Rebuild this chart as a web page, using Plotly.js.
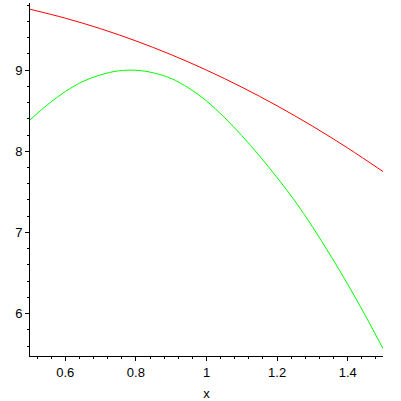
<!DOCTYPE html>
<html>
<head>
<meta charset="utf-8">
<script src="https://cdn.plot.ly/plotly-3.0.1.min.js"></script>
<style>html,body{margin:0;padding:0;background:#fff;}#chart{width:401px;height:401px;}</style>
</head>
<body>
<div id="chart"></div>
<script>
// Red curve samples
const redX = [0.5, 0.6, 0.7, 0.8, 0.9, 1.0, 1.1, 1.2, 1.3, 1.4, 1.5];
const redY = [9.75, 9.64, 9.51, 9.36, 9.19, 9.00, 8.79, 8.56, 8.31, 8.04, 7.75];

// Green curve samples
const greenX = [0.5, 0.55, 0.6, 0.65, 0.7, 0.75, 0.8, 0.85, 0.9, 0.95, 1.0, 1.05, 1.1, 1.15, 1.2, 1.25, 1.3, 1.35, 1.4, 1.45, 1.5];
const greenY = [8.386, 8.575, 8.736, 8.86, 8.942, 8.99, 8.998, 8.966, 8.897, 8.778, 8.621, 8.420, 8.193, 7.944, 7.675, 7.39, 7.07, 6.725, 6.362, 5.975, 5.568];

const xTitle = "x";

const font = {family: "Liberation Sans, Arial, sans-serif", size: 13, color: "#000"};

const traces = [
  {x: redX, y: redY, type: "scatter", mode: "lines", line: {color: "#ff0000", width: 1, shape: "spline"}, hoverinfo: "skip"},
  {x: greenX, y: greenY, type: "scatter", mode: "lines", line: {color: "#00ff00", width: 1, shape: "spline"}, hoverinfo: "skip"}
];

const layout = {
  width: 401, height: 401,
  margin: {l: 30, r: 18, t: 3, b: 45, pad: 0},
  paper_bgcolor: "#fff", plot_bgcolor: "#fff",
  showlegend: false,
  font: font,
  xaxis: {
    range: [0.5, 1.5], tick0: 0, dtick: 0.2,
    showgrid: false, zeroline: false,
    showline: true, linecolor: "#000", linewidth: 1,
    ticks: "outside", ticklen: 4, tickcolor: "#000", tickwidth: 1,
    minor: {dtick: 0.04, tick0: 0, ticks: "outside", ticklen: 2, tickcolor: "#000", showgrid: false},
    tickfont: font,
    title: {text: xTitle, font: font, standoff: 14},
    automargin: false
  },
  yaxis: {
    range: [5.477, 9.827], tick0: 0, dtick: 1,
    showgrid: false, zeroline: false,
    showline: true, linecolor: "#000", linewidth: 1,
    ticks: "outside", ticklen: 4, tickcolor: "#000", tickwidth: 1,
    minor: {dtick: 0.2, tick0: 0, ticks: "outside", ticklen: 2, tickcolor: "#000", showgrid: false},
    tickfont: font,
    automargin: false
  }
};

Plotly.newPlot("chart", traces, layout, {staticPlot: true, displayModeBar: false});
</script>
</body>
</html>
